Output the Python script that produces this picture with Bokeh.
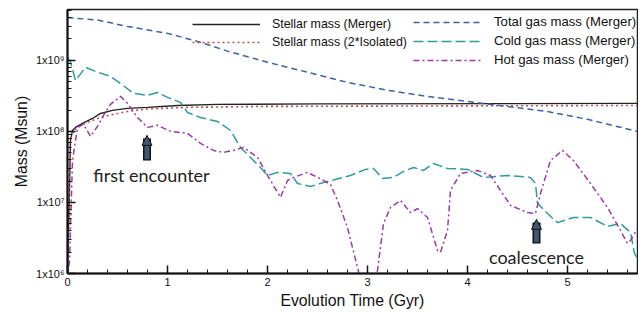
from bokeh.plotting import figure
from bokeh.models import (Range1d, FixedTicker, CustomJSTickFormatter, Legend, LegendItem,
                          Label, Arrow, NormalHead)
from bokeh.embed import file_html
from bokeh.resources import INLINE

# ---- data (time in Gyr, mass in Msun) ----
stellar_merger_t = [0.0, 0.01, 0.03, 0.05, 0.08, 0.15, 0.25, 0.33, 0.45, 0.6, 0.8, 1.1, 1.5, 2.5, 5.7]
stellar_merger = [1.0e6, 4.0e6, 7.5e7, 1.03e8, 1.14e8, 1.30e8, 1.52e8, 1.79e8, 1.98e8, 2.11e8,
                  2.18e8, 2.32e8, 2.40e8, 2.44e8, 2.48e8]

stellar_iso_t = [0.0, 0.01, 0.03, 0.06, 0.1, 0.2, 0.33, 0.45, 0.6, 0.8, 1.2, 2.0, 3.5, 5.7]
stellar_iso = [1.0e6, 4.0e6, 7.5e7, 1.03e8, 1.14e8, 1.34e8, 1.57e8, 1.73e8, 1.91e8, 2.07e8,
               2.18e8, 2.25e8, 2.28e8, 2.32e8]

total_gas_t = [0.0, 0.3, 0.6, 1.0, 1.3, 1.6, 2.0, 2.4, 2.8, 3.2, 3.6, 4.0, 4.4, 4.8, 5.2, 5.7]
total_gas = [4.0e9, 3.7e9, 3.0e9, 2.4e9, 1.85e9, 1.35e9, 9.4e8, 6.8e8, 4.9e8, 3.8e8, 3.1e8,
             2.65e8, 2.25e8, 1.9e8, 1.48e8, 1.0e8]

cold_gas_t = [0.0, 0.03, 0.08, 0.18, 0.28, 0.43, 0.53, 0.66, 0.80, 0.90, 1.00, 1.13, 1.20, 1.33,
              1.50, 1.63, 1.73, 1.83, 1.93, 2.00, 2.10, 2.23, 2.30, 2.43, 2.60, 2.83, 2.98, 3.06,
              3.15, 3.26, 3.36, 3.46, 3.56, 3.66, 3.80, 4.00, 4.16, 4.40, 4.63, 4.68, 4.70, 4.80,
              4.90, 5.06, 5.23, 5.40, 5.53, 5.63, 5.67, 5.70]
cold_gas = [1.1e9, 9.5e8, 5.2e8, 8.0e8, 7.0e8, 5.95e8, 4.74e8, 3.43e8, 3.21e8, 3.54e8, 3.01e8,
            2.56e8, 1.85e8, 1.57e8, 1.38e8, 1.03e8, 5.95e7, 4.3e7, 3.11e7, 2.4e7, 2.65e7, 2.56e7,
            1.85e7, 1.68e7, 1.98e7, 2.4e7, 2.92e7, 3.01e7, 2.18e7, 2.25e7, 2.73e7, 3.11e7, 2.82e7,
            3.54e7, 3.01e7, 2.92e7, 2.25e7, 2.4e7, 2.25e7, 1.85e7, 9.7e6, 7.0e6, 5.2e6, 6.15e6,
            6.15e6, 4.59e6, 5.06e6, 3.78e6, 1.91e6, 1.63e6]

hot_gas_t = [0.0, 0.02, 0.05, 0.10, 0.16, 0.23, 0.30, 0.36, 0.43, 0.53, 0.60, 0.70, 0.80, 0.90,
             1.03, 1.20, 1.33, 1.46, 1.56, 1.66, 1.76, 1.90, 2.00, 2.13, 2.20, 2.26, 2.40, 2.56,
             2.63, 2.70, 2.80, 2.90, 2.97, 3.05, 3.10, 3.16, 3.23, 3.33, 3.43, 3.50, 3.60, 3.70,
             3.73, 3.80, 3.83, 3.93, 4.10, 4.23, 4.33, 4.43, 4.60, 4.68, 4.73, 4.83, 4.95, 5.06,
             5.23, 5.40, 5.53, 5.60, 5.63, 5.70]
hot_gas = [8.0e5, 1.52e6, 3.9e7, 1.14e8, 1.26e8, 8.5e7, 1.18e8, 1.68e8, 2.4e8, 3.11e8, 2.48e8,
           1.57e8, 1.14e8, 1.22e8, 1.0e8, 9.4e7, 6.8e7, 5.4e7, 5.06e7, 5.4e7, 5.95e7, 4.3e7,
           2.4e7, 1.18e7, 2.04e7, 2.25e7, 2.65e7, 2.04e7, 1.79e7, 1.07e7, 4.44e6, 1.21e6, 4.9e5,
           5.8e5, 1.1e6, 5.06e6, 8.5e6, 1.07e7, 7.2e6, 8.2e6, 6.15e6, 2.11e6, 1.98e6, 4.03e6,
           1.48e7, 2.56e7, 2.82e7, 2.4e7, 1.48e7, 9.1e6, 7.2e6, 7.0e6, 1.34e7, 3.9e7, 5.4e7,
           3.9e7, 1.85e7, 8.5e6, 4.03e6, 2.65e6, 2.92e6, 4.3e6]

x_ticks = [0, 1, 2, 3, 4, 5]
x_minor = [0.2, 0.4, 0.6, 0.8, 1.2, 1.4, 1.6, 1.8, 2.2, 2.4, 2.6, 2.8, 3.2, 3.4, 3.6, 3.8,
           4.2, 4.4, 4.6, 4.8, 5.2, 5.4, 5.6]
y_ticks = [1e6, 1e7, 1e8, 1e9]
y_minor = [k * d for d in (1e6, 1e7, 1e8, 1e9) for k in range(2, 10)]

FONT = "Liberation Sans"

p = figure(width=638, height=312, x_range=Range1d(0, 5.7), y_range=Range1d(1e6, 5.2e9),
           y_axis_type="log", output_backend="svg", toolbar_location=None,
           min_border_left=67, min_border_right=1, min_border_top=9, min_border_bottom=39)
p.grid.visible = False
p.outline_line_color = "#222222"
p.outline_line_width = 1.5
p.background_fill_color = "white"
p.border_fill_color = "white"

r_sm = p.line(stellar_merger_t, stellar_merger, line_color="#222222", line_width=1.4)
r_si = p.line(stellar_iso_t, stellar_iso, line_color="#c0504d", line_width=1.6, line_dash="2 3")
r_tg = p.line(total_gas_t, total_gas, line_color="#3a63a6", line_width=1.5, line_dash="6 4")
r_cg = p.line(cold_gas_t, cold_gas, line_color="#2f9c9a", line_width=1.5, line_dash="10 4")
r_hg = p.line(hot_gas_t, hot_gas, line_color="#9b3aa6", line_width=1.5, line_dash="6 3 2 3")

for ax in (p.xaxis[0], p.yaxis[0]):
    ax.axis_line_width = 2
    ax.axis_line_color = "#111111"
    ax.major_tick_line_color = "#111111"
    ax.minor_tick_line_color = "#111111"
    ax.major_tick_line_width = 1.5
    ax.major_tick_in = 8
    ax.major_tick_out = 0
    ax.minor_tick_in = 4
    ax.minor_tick_out = 0
    ax.major_label_text_font = FONT
    ax.major_label_text_font_size = "11px"
    ax.major_label_text_color = "#111111"
    ax.axis_label_text_font = FONT
    ax.axis_label_text_font_size = "15.8px"
    ax.axis_label_text_font_style = "normal"
    ax.axis_label_text_color = "#111111"

p.xaxis.ticker = FixedTicker(ticks=x_ticks, minor_ticks=x_minor)
p.xaxis.axis_label = "Evolution Time (Gyr)"
p.xaxis.major_label_standoff = 4
p.xaxis.axis_label_standoff = 3

p.yaxis.ticker = FixedTicker(ticks=y_ticks, minor_ticks=y_minor)
p.yaxis.axis_label = "Mass (Msun)"
p.yaxis.major_label_standoff = 3
p.yaxis.axis_label_standoff = 3
p.yaxis.formatter = CustomJSTickFormatter(code="""
const sup = {'0':'\u2070','1':'\u00b9','2':'\u00b2','3':'\u00b3','4':'\u2074','5':'\u2075','6':'\u2076','7':'\u2077','8':'\u2078','9':'\u2079'};
const e = Math.round(Math.log10(tick));
return '1x10' + String(e).split('').map(c => sup[c]).join('');
""")

def make_legend(items, loc, standoff, size):
    lg = Legend(items=items, location=loc, orientation="vertical",
                glyph_width=68, glyph_height=14, label_height=14, spacing=4,
                label_standoff=standoff, padding=0, margin=0,
                border_line_alpha=0, background_fill_alpha=0,
                label_text_font=FONT, label_text_font_size=size, label_text_color="#111111")
    return lg

leg1 = make_legend([LegendItem(label="Stellar mass (Merger)", renderers=[r_sm]),
                    LegendItem(label="Stellar mass (2*Isolated)", renderers=[r_si])],
                   (125, 224), 12, "12.4px")
leg2 = make_legend([LegendItem(label="Total gas mass (Merger)", renderers=[r_tg]),
                    LegendItem(label="Cold gas mass (Merger)", renderers=[r_cg]),
                    LegendItem(label="Hot gas mass (Merger)", renderers=[r_hg])],
                   (346, 206), 13, "13.2px")
p.add_layout(leg1)
p.add_layout(leg2)

# annotation arrows and texts
ARROW_FILL = "#41566f"
for (xa, y0, y1) in [(0.795, 3.9e7, 8.8e7), (4.69, 2.65e6, 5.8e6)]:
    p.add_layout(Arrow(x_start=xa, y_start=y0, x_end=xa, y_end=y1 * 0.9,
                       line_color="#111111", line_width=8, end=None))
    p.add_layout(Arrow(x_start=xa, y_start=y0 * 1.04, x_end=xa, y_end=y1 * 0.9,
                       line_color=ARROW_FILL, line_width=5, end=None))
    p.add_layout(Arrow(x_start=xa, y_start=y1 * 0.8, x_end=xa, y_end=y1,
                       line_alpha=0, line_width=1,
                       end=NormalHead(size=10, fill_color=ARROW_FILL, line_color="#111111",
                                      line_width=1)))

p.add_layout(Label(x=0.84, y=2.4e7, text="first encounter", text_align="center",
                   text_baseline="alphabetic", text_font="Lato", text_font_size="18px",
                   text_color="#222222"))
p.add_layout(Label(x=4.69, y=1.68e6, text="coalescence", text_align="center",
                   text_baseline="alphabetic", text_font="Lato", text_font_size="18px",
                   text_color="#222222"))

open("out.html", "w").write(file_html(p, INLINE))
